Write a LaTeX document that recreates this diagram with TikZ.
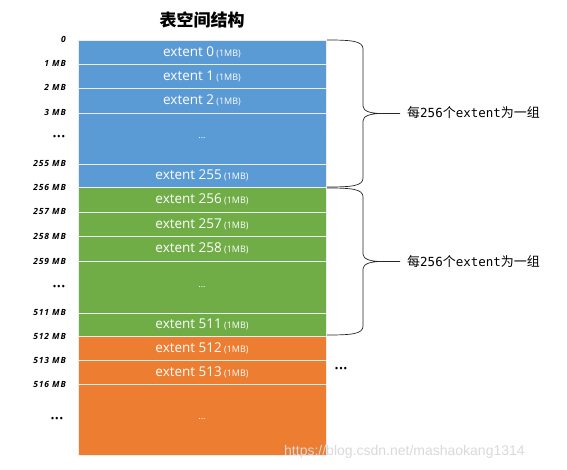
\documentclass[tikz,border=0pt]{standalone}
\usepackage{fontspec}
\setmainfont{Open Sans}
\newfontfamily\cjkfont{Noto Sans CJK SC}
\newfontfamily\monofont{DejaVu Sans Mono}
\newfontfamily\wmfont{Liberation Sans}
\newfontfamily\lblfont[LetterSpace=10]{Open Sans}
\definecolor{cblue}{HTML}{5B9BD5}
\definecolor{cgreen}{HTML}{70AD47}
\definecolor{corange}{HTML}{ED7D31}
\begin{document}
\begin{tikzpicture}[x=1pt,y=-1pt,
  cell/.style={draw=white!85!gray, line width=0.8pt, inner sep=0pt, minimum width=248pt, text=white, font=\fontsize{13.5}{15}\selectfont},
  mb/.style={anchor=east, inner sep=0pt, font=\lblfont\fontsize{8.5}{9}\selectfont\bfseries\itshape},
  dots/.style={anchor=east, inner sep=0pt, font=\fontsize{8}{8}\selectfont\bfseries},
  brace/.style={draw=black!85, line width=0.7pt},
  grp/.style={anchor=west, inner sep=0pt, font=\cjkfont\fontsize{13}{15}\selectfont}
]
\useasboundingbox (0,0) rectangle (567,470);
\newcommand{\sz}[1]{\,{\fontsize{9}{10}\selectfont(#1)}}
\newcommand{\mn}[1]{{\monofont\fontsize{12.5}{15}\selectfont #1}}
% title
\node[inner sep=0pt, font=\cjkfont\bfseries\fontsize{17}{19}\selectfont] (title) at (202,20) {表空间结构};
% blue
\node[cell, fill=cblue, minimum height=24pt] (r0) at (202,52) {extent 0\sz{1MB}};
\node[cell, fill=cblue, minimum height=24pt] (r1) at (202,76) {extent 1\sz{1MB}};
\node[cell, fill=cblue, minimum height=25pt] (r2) at (202,100.5) {extent 2\sz{1MB}};
\node[cell, fill=cblue, minimum height=51pt, font=\fontsize{9}{9}\selectfont] (r3) at (202,138.5) {...};
\node[cell, fill=cblue, minimum height=23pt] (r4) at (202,175.5) {extent 255\sz{1MB}};
% green
\node[cell, fill=cgreen, minimum height=25pt] (g0) at (202,199.5) {extent 256\sz{1MB}};
\node[cell, fill=cgreen, minimum height=24pt] (g1) at (202,224) {extent 257\sz{1MB}};
\node[cell, fill=cgreen, minimum height=25pt] (g2) at (202,248.5) {extent 258\sz{1MB}};
\node[cell, fill=cgreen, minimum height=52pt, font=\fontsize{9}{9}\selectfont] (g3) at (202,287) {...};
\node[cell, fill=cgreen, minimum height=23pt] (g4) at (202,324.5) {extent 511\sz{1MB}};
% orange
\node[cell, fill=corange, minimum height=24pt] (o0) at (202,348) {extent 512\sz{1MB}};
\node[cell, fill=corange, minimum height=24pt] (o1) at (202,372) {extent 513\sz{1MB}};
\node[cell, fill=corange, minimum height=71pt, font=\fontsize{9}{9}\selectfont] (o2) at (202,419.5) {...};
% left labels
\node[mb] (l0) at (66,39) {0};
\node[mb] (l1) at (66,63) {1 MB};
\node[mb] (l2) at (66,87) {2 MB};
\node[mb] (l3) at (66,112) {3 MB};
\node[dots] (d1) at (65,137) {•\,•\,•};
\node[mb] (l255) at (66,163) {255 MB};
\node[mb] (l256) at (66,187) {256 MB};
\node[mb] (l257) at (66,211) {257 MB};
\node[mb] (l258) at (66,236) {258 MB};
\node[mb] (l259) at (66,261) {259 MB};
\node[dots] (d2) at (65,287) {•\,•\,•};
\node[mb] (l511) at (66,313) {511 MB};
\node[mb] (l512) at (66,336) {512 MB};
\node[mb] (l513) at (66,360) {513 MB};
\node[mb] (l516) at (66,384) {516 MB};
\node[dots] (d3) at (63,419) {•\,•\,•};
% right dots
\node[dots, anchor=west] (d4) at (335,369) {•\,•\,•};
% braces
\draw[brace] (327,40) .. controls (352,40) and (363,41) .. (363,49) -- (363,106)
  .. controls (363,111) and (370,113.5) .. (382,113.5) -- (400,113.5)
  (382,113.5) .. controls (370,113.5) and (363,116) .. (363,121) -- (363,178)
  .. controls (363,186) and (352,187) .. (327,187);
\draw[brace] (327,188) .. controls (352,188) and (363,189) .. (363,197) -- (363,254)
  .. controls (363,259) and (370,261.5) .. (382,261.5) -- (400,261.5)
  (382,261.5) .. controls (370,261.5) and (363,264) .. (363,269) -- (363,326)
  .. controls (363,334) and (352,335) .. (327,335);
\node[grp] (t1) at (407,113) {每\mn{256}个\mn{extent}为一组};
\node[grp] (t2) at (407,262) {每\mn{256}个\mn{extent}为一组};
% watermark
\node[inner sep=0pt, anchor=west, text=black!15, font=\wmfont\fontsize{14}{16}\selectfont] (wm) at (284,452) {https://blog.csdn.net/mashaokang1314};
\end{tikzpicture}
\end{document}
